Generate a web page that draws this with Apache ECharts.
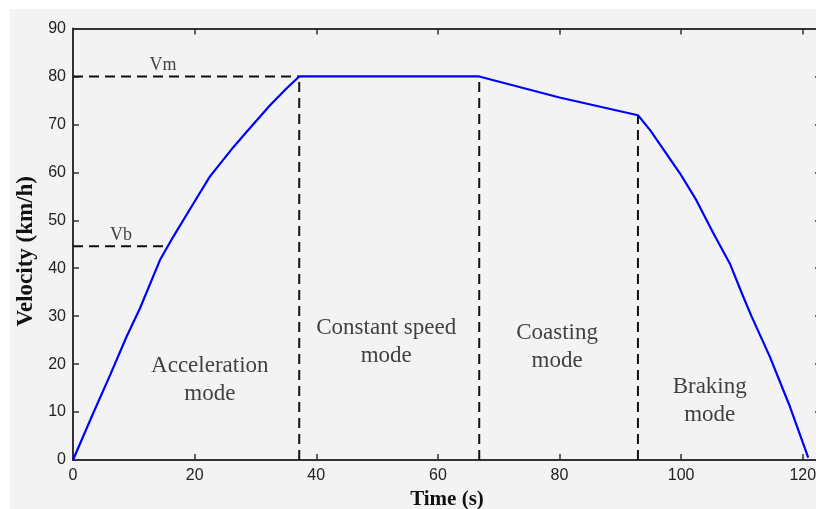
<!DOCTYPE html>
<html>
<head>
	<meta charset="utf-8">
	<title>velocity profile</title>
	<script src="https://cdn.jsdelivr.net/npm/echarts@6/dist/echarts.min.js"></script>
</head>
<body style="margin:0;background:#fff;">
	<div id="main" style="height: 509px; width: 816px;"></div>
	<script type="text/javascript">
		// time (s) / velocity (km/h)
		var speedCurve = [
			[0, 0], [3.3, 9.7], [6.1, 17.7], [8.8, 25.7], [11.0, 31.6], [14.3, 41.7],
			[16.5, 46.6], [19.8, 53.5], [22.5, 59.1], [26.4, 65.3], [28.6, 68.5],
			[32.4, 74.0], [35.1, 77.5], [37.2, 80],
			[66.8, 80], [80, 75.6], [92.9, 71.9],
			[94.9, 68.8], [96.8, 65.3], [99.8, 59.8], [102.5, 54.2], [105.3, 47.3],
			[108.0, 41.0], [110.2, 34.1], [111.6, 29.9], [114.6, 21.5], [117.9, 11.1], [120.9, 0.5]
		];
		var vmGuide = [[0, 80], [37.2, 80]];
		var vbGuide = [[0, 44.6], [15.4, 44.6]];
		var modeBounds = [
			[[37.2, 0], [37.2, 80]],
			[[66.8, 0], [66.8, 80]],
			[[92.9, 0], [92.9, 71.9]]
		];
		var speedNotes = [[14.8, 82.4, 'Vm'], [7.9, 46.9, 'Vb']];
		var modeNotes = [
			[22.5, 16.6, 'Acceleration\nmode'],
			[51.5, 24.6, 'Constant speed\nmode'],
			[79.6, 23.5, 'Coasting\nmode'],
			[104.7, 12.3, 'Braking\nmode']
		];

		var myChart = echarts.init(document.getElementById('main'));
		var axisLine = {show: true, onZero: false, lineStyle: {color: '#333', width: 2}};
		var axisTick = {inside: true, length: 6, lineStyle: {color: '#333', width: 1.5}};
		var tickFont = {color: '#222', fontFamily: 'Liberation Sans', fontSize: 16};

		var series = [{
			name: 'velocity',
			type: 'line',
			data: speedCurve,
			showSymbol: false,
			lineStyle: {color: '#0000ff', width: 2.2},
			z: 5
		}];
		[vmGuide, vbGuide].concat(modeBounds).forEach(function (seg) {
			series.push({
				type: 'line',
				data: seg,
				showSymbol: false,
				silent: true,
				lineStyle: {color: '#111', width: 2, type: [10, 6]},
				z: 3
			});
		});
		series.push({
			type: 'scatter',
			data: speedNotes,
			symbolSize: 0,
			silent: true,
			label: {
				show: true, position: 'inside', formatter: function (p) { return p.value[2]; },
				fontFamily: 'Liberation Serif', fontSize: 18, color: '#111'
			}
		});
		series.push({
			type: 'scatter',
			data: modeNotes,
			symbolSize: 0,
			silent: true,
			label: {
				show: true, position: 'inside', formatter: function (p) { return p.value[2]; },
				fontFamily: 'Liberation Serif', fontSize: 23, lineHeight: 28, align: 'center', color: '#111'
			}
		});

		var option = {
			backgroundColor: '#ffffff',
			animation: false,
			graphic: [{
				type: 'rect', z: -10, silent: true,
				shape: {x: 10, y: 9, width: 806, height: 500},
				style: {fill: '#f3f3f3'}
			}],
			grid: {left: 73, top: 28.5, right: -5, bottom: 49, outerBoundsMode: 'none', containLabel: false},
			xAxis: [{
				type: 'value', min: 0, max: 123, interval: 20,
				name: 'Time (s)', nameLocation: 'middle', nameGap: 27,
				nameTextStyle: {fontFamily: 'Liberation Serif', fontWeight: 'bold', fontSize: 21, color: '#111'},
				axisLine: axisLine, axisTick: axisTick,
				axisLabel: Object.assign({margin: 8, showMaxLabel: false}, tickFont),
				splitLine: {show: false}
			}, {
				type: 'value', position: 'top', min: 0, max: 123, interval: 20,
				axisLine: axisLine, axisTick: axisTick,
				axisLabel: {show: false},
				splitLine: {show: false}
			}],
			yAxis: [{
				type: 'value', min: 0, max: 90, interval: 10,
				name: 'Velocity (km/h)', nameLocation: 'middle', nameGap: 33, nameRotate: 90,
				nameTextStyle: {fontFamily: 'Liberation Serif', fontWeight: 'bold', fontSize: 23, color: '#111', padding: [0, 14, 0, 0]},
				axisLine: axisLine, axisTick: axisTick,
				axisLabel: Object.assign({margin: 7}, tickFont),
				splitLine: {show: false}
			}, {
				type: 'value', position: 'right', min: 0, max: 90, interval: 10,
				axisLine: axisLine, axisTick: axisTick,
				axisLabel: {show: false},
				splitLine: {show: false}
			}],
			series: series
		};
		myChart.setOption(option);
	</script>
</body>
</html>
